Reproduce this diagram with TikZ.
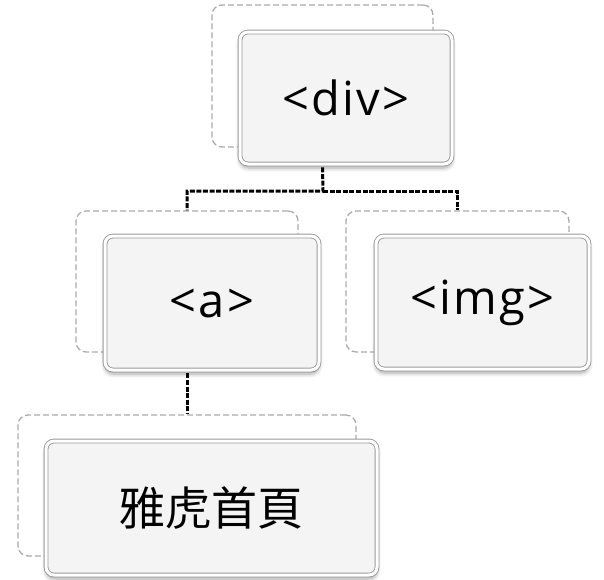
\documentclass[tikz,border=0pt]{standalone}
\usepackage{fontspec}
\setmainfont{Open Sans}
\newfontfamily\tagfont[LetterSpace=5]{Open Sans}
\newfontfamily\cjk{Noto Sans CJK TC}
\usetikzlibrary{shadows.blur,calc}
\definecolor{boxfill}{HTML}{F4F4F4}
\definecolor{boxline}{HTML}{9A9A9A}
\definecolor{frameline}{HTML}{ABABAB}
\tikzset{
  frame/.style={draw=frameline, dashed, dash pattern=on 6pt off 3pt, line width=1.3pt, rounded corners=10pt, inner sep=0pt},
  tagbox/.style={draw=boxline, double=white, double distance=3pt, line width=0.9pt, fill=boxfill, rounded corners=8pt, inner sep=0pt,
    blur shadow={shadow xshift=0pt, shadow yshift=-4pt, shadow blur steps=6, shadow opacity=35, shadow blur radius=4pt},
    font=\tagfont\fontsize{47}{52}\selectfont},
  conn/.style={draw=black, line width=3pt, dash pattern=on 5pt off 1.6pt}
}
\begin{document}
\begin{tikzpicture}[x=1pt,y=-1pt]
\useasboundingbox (0,0) rectangle (604,579);
% frames
\node[frame, minimum width=221pt, minimum height=142pt] (fdiv) at (322.5,76) {};
\node[frame, minimum width=222pt, minimum height=141pt] (fa) at (187,281.5) {};
\node[frame, minimum width=223pt, minimum height=141pt] (fimg) at (457.5,281.5) {};
\node[frame, minimum width=338pt, minimum height=141pt] (ftxt) at (187,485.5) {};
% boxes
\node[tagbox, minimum width=212pt, minimum height=132pt] (div) at (346,98) {<div>};
\node[tagbox, minimum width=214pt, minimum height=134pt] (a) at (212,303) {<a>};
\node[tagbox, minimum width=213pt, minimum height=133pt] (img) at (482.5,302.5) {<img>};
\node[tagbox, minimum width=331pt, minimum height=134pt, font=\cjk\fontsize{46}{52}\selectfont] (txt) at (211.5,508) {雅虎首頁};
% connectors
\coordinate (j) at (323,191);
\draw[conn] ($(fdiv.south |- div.south)+(0,3)$) -- (j) -| (fa.north);
\draw[conn] (j) -| (fimg.north);
\draw[conn] ($(fa.south |- a.south)+(0,3)$) -- (ftxt.north);
\end{tikzpicture}
\end{document}
